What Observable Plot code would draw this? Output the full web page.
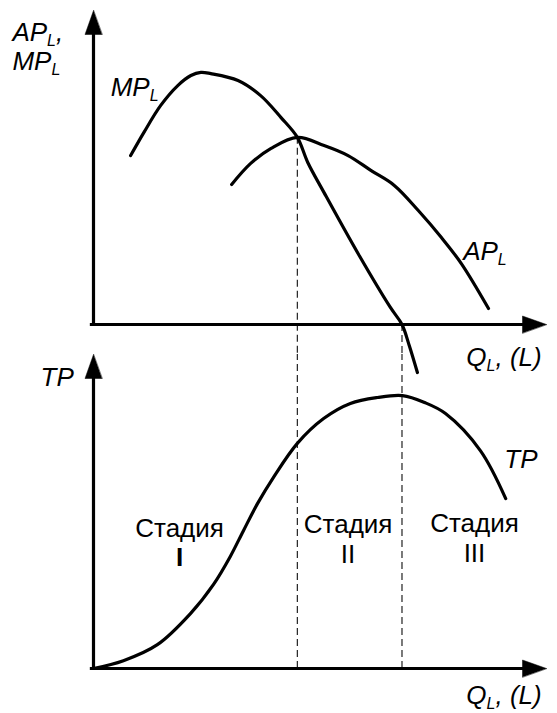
<!DOCTYPE html>
<html>
<head>
<meta charset="utf-8">
<script src="https://cdn.jsdelivr.net/npm/d3@7"></script>
<script src="https://cdn.jsdelivr.net/npm/@observablehq/plot@0.6"></script>
<style>
  body { margin: 0; background: #fff; }
  svg { overflow: visible; }
</style>
</head>
<body>
<div id="chart"></div>
<script>
// ---- Data (labour input L vs. product) ----
// Marginal product of labour MP_L (top panel)
const mpL = [0.82, 1.11, 1.48, 1.86, 2.15, 2.37, 2.59, 3.19, 3.69, 4.14, 4.50, 4.73, 5.09, 5.84, 6.55, 6.81, 6.97, 7.15];
const mpV = [5.38, 6.11, 6.97, 7.61, 7.93, 8.03, 7.99, 7.77, 7.29, 6.59, 5.96, 5.16, 4.20, 2.26, 0.55, 0.00, -0.67, -1.53];
// Average product of labour AP_L (top panel)
const apL = [3.05, 3.47, 3.92, 4.50, 5.09, 5.62, 6.13, 6.64, 7.17, 7.68, 8.12, 8.72];
const apV = [4.46, 5.13, 5.61, 5.96, 5.70, 5.38, 4.90, 4.43, 3.63, 2.77, 1.94, 0.51];
// Total product TP (bottom panel)
const tpL = [0, 0.66, 1.41, 2.14, 2.65, 3.02, 3.31, 3.62, 3.97, 4.50, 5.08, 5.67, 6.27, 6.82, 7.31, 7.77, 8.54, 9.10];
const tpV = [0, 0.25, 0.76, 1.75, 2.68, 3.57, 4.39, 5.25, 6.08, 7.17, 7.96, 8.44, 8.63, 8.69, 8.47, 8.12, 6.94, 5.41];
// Stage boundaries: AP_L max, MP_L = 0
const stageBounds = [4.5, 6.81];
const stageNames = ["Стадия\nI", "Стадия\nII", "Стадия\nIII"];
const panels = ["top", "bottom"];

// ---- Tables built from the arrays ----
const mp = mpL.map((L, i) => ({L, v: mpV[i], panel: "top"}));
const ap = apL.map((L, i) => ({L, v: apV[i], panel: "top"}));
const tp = tpL.map((L, i) => ({L, v: tpV[i], panel: "bottom"}));
const apPeak = d3.max(apV);
const gap = -0.96; // space between the two panels, in y units

const guides = [
  {L: stageBounds[0], y1: apPeak, y2: gap, panel: "top"},
  {L: stageBounds[1], y1: 0, y2: gap, panel: "top"},
  {L: stageBounds[0], y1: 0, y2: 10, panel: "bottom"},
  {L: stageBounds[1], y1: 0, y2: 10, panel: "bottom"}
];

const italicLabels = [
  {x: -1.79, y: 9.04, text: "AP_L,", panel: "top"},
  {x: -1.79, y: 8.10, text: "MP_L", panel: "top"},
  {x: 0.38, y: 7.29, text: "MP_L", panel: "top"},
  {x: 8.16, y: 2.07, text: "AP_L", panel: "top"},
  {x: 8.23, y: -1.31, text: "Q_L, (L)", panel: "top"},
  {x: -1.17, y: 9.01, text: "TP", panel: "bottom"},
  {x: 9.07, y: 6.40, text: "TP", panel: "bottom"},
  {x: 8.23, y: -1.14, text: "Q_L, (L)", panel: "bottom"}
];
const stageLabels = [
  {x: 1.90, y: 3.25, text: stageNames[0], panel: "bottom"},
  {x: 5.62, y: 3.36, text: stageNames[1], panel: "bottom"},
  {x: 8.41, y: 3.40, text: stageNames[2], panel: "bottom"}
];

const triangle = {
  draw(context, l, r) {
    context.moveTo(0, -l);
    context.lineTo(-r, 0);
    context.lineTo(r, 0);
    context.closePath();
  }
};

const chart = Plot.plot({
  width: 557,
  height: 713,
  marginTop: 10,
  marginBottom: 45,
  marginLeft: 93,
  marginRight: 11,
  x: {domain: [0, 10], axis: null},
  y: {domain: [0, 10], axis: null},
  fy: {domain: panels, axis: null, paddingInner: 30 / 344, paddingOuter: 0},
  style: {fontFamily: "'Liberation Sans', Arial, sans-serif", background: "white", overflow: "visible", color: "black"},
  marks: [
    // dashed stage boundaries
    Plot.ruleX(guides, {x: "L", y1: "y1", y2: "y2", fy: "panel", stroke: "#222", strokeWidth: 1.2, strokeDasharray: "7,4"}),
    // axes
    Plot.ruleY([0], {x1: -0.07, x2: 9.5, stroke: "black", strokeWidth: 3.2}),
    Plot.ruleX([0], {y1: -0.05, y2: 9.3, stroke: "black", strokeWidth: 3.2}),
    Plot.vector([{x: 0, y: 10, a: 0}, {x: 10, y: 0, a: 90}], {
      x: "x", y: "y", rotate: "a", length: 24, r: 8.5, anchor: "end",
      shape: triangle, fill: "black", stroke: "black", strokeWidth: 0.5
    }),
    // curves
    Plot.line(mp, {x: "L", y: "v", fy: "panel", curve: "catmull-rom", stroke: "black", strokeWidth: 3.2}),
    Plot.line(ap, {x: "L", y: "v", fy: "panel", curve: "catmull-rom", stroke: "black", strokeWidth: 3.2}),
    Plot.line(tp, {x: "L", y: "v", fy: "panel", curve: "catmull-rom", stroke: "black", strokeWidth: 3.2}),
    // labels
    Plot.text(italicLabels, {x: "x", y: "y", text: "text", fy: "panel", textAnchor: "start", lineAnchor: "bottom",
      fontSize: 26, fontStyle: "italic", fill: "black"}),
    Plot.text(stageLabels, {x: "x", y: "y", text: "text", fy: "panel", textAnchor: "middle", lineAnchor: "bottom",
      lineHeight: 1.15, fontSize: 26, fill: "black"})
  ]
});

// subscripts: "AP_L" -> AP with subscript L
const NS = "http://www.w3.org/2000/svg";
chart.querySelectorAll("text").forEach(t => {
  const s = t.textContent;
  const i = s.indexOf("_");
  if (i < 0) return;
  const before = s.slice(0, i), sub = s[i + 1], after = s.slice(i + 2);
  t.textContent = before;
  const ts = document.createElementNS(NS, "tspan");
  ts.setAttribute("font-size", "16");
  ts.setAttribute("dy", "5");
  ts.textContent = sub;
  t.appendChild(ts);
  if (after) {
    const ta = document.createElementNS(NS, "tspan");
    ta.setAttribute("dy", "-5");
    ta.textContent = after;
    t.appendChild(ta);
  }
});
// the single "I" is drawn heavier in the original
chart.querySelectorAll("tspan").forEach(ts => {
  if (ts.textContent === "I") ts.setAttribute("font-weight", "bold");
});

document.getElementById("chart").appendChild(chart);
</script>
</body>
</html>
